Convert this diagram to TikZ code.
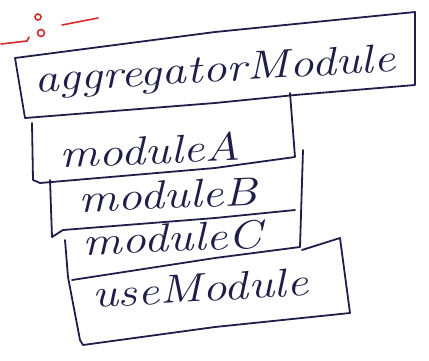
\documentclass[tikz,border=0pt]{standalone}
\usepackage{fontspec}
\definecolor{ink}{HTML}{1E1E48}
\definecolor{redink}{HTML}{D42A2A}
\tikzset{
  boxline/.style={draw=ink, line width=1.8pt, line join=round, line cap=round},
  hand/.style={text=ink, font=\fontsize{40}{40}\selectfont\itshape, inner sep=0pt, anchor=center, xscale=1.22},
  redline/.style={draw=redink, line width=1.6pt, line cap=round}
}
\begin{document}
\begin{tikzpicture}[x=1pt, y=-1pt]
\useasboundingbox (0,0) rectangle (429,360);
% red mark
\draw[redline] (1,44) -- (27,41) -- (29,37);
\draw[redline] (38,17) circle (3);
\draw[redline] (41,33) circle (3.5);
\draw[redline] (62,25) -- (98,18);
% box outlines
\draw[boxline] (25,118) -- (15,58) -- (215,32) -- (415,12) -- (415,85) -- (295,95) -- (215,103) -- cycle;
\draw[boxline] (32,123) -- (33,180) -- (40,183) -- (215,168) -- (295,157) -- (290,93);
\draw[boxline] (50,180) -- (52,237) -- (63,230) -- (215,218) -- (295,210);
\draw[boxline] (303,150) -- (300,247) -- (215,258) -- (72,280);
\draw[boxline] (65,240) -- (68,277) -- (80,340) -- (83,345) -- (215,327) -- (350,313) -- (340,238) -- (302,250);
% texts
\node[hand, rotate=4] (agg) at (215,72) {aggregatorModule};
\node[hand, rotate=3] (ma) at (150,150) {moduleA};
\node[hand, rotate=3] (mb) at (168,195) {moduleB};
\node[hand, rotate=3] (mc) at (172,238) {moduleC};
\node[hand, rotate=4] (um) at (200,288) {useModule};
\end{tikzpicture}
\end{document}
